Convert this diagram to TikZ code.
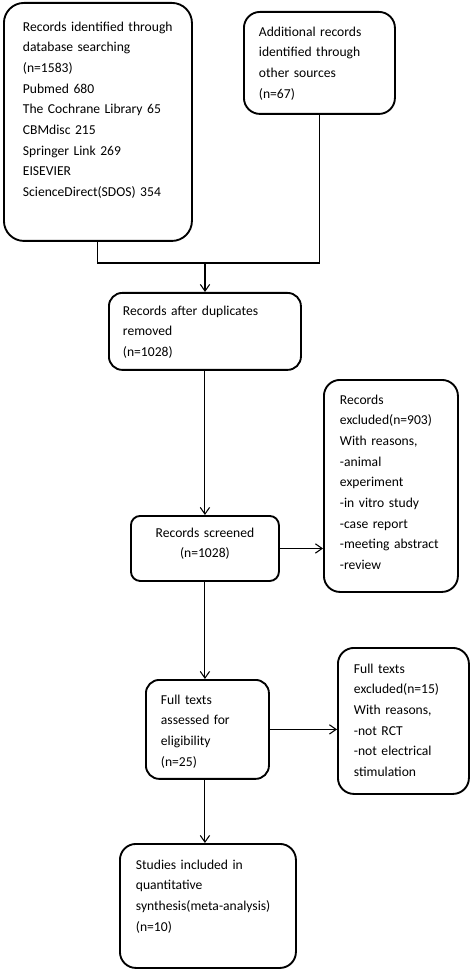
\documentclass[tikz,border=0pt]{standalone}
\usepackage{fontspec}
\setmainfont{Carlito}
\usepackage{tikz}
\usetikzlibrary{arrows.meta}

\begin{document}
\begin{tikzpicture}[x=0.75pt,y=-0.75pt,
		stage/.style={draw,line width=1.4pt,rounded corners=10pt,anchor=north west,
			align=left,inner ysep=0pt,font=\fontsize{10.2pt}{15.5pt}\selectfont},
		link/.style={line width=0.8pt},
		flow/.style={link,-{Straight Barb[length=5pt,width=7pt]}}]
		\useasboundingbox (0,0) rectangle (470,969);
		% identification
		\node [stage,rounded corners=15pt,text width=112.5pt,inner xsep=14.25pt,
			text height=21.2pt,text depth=157.3pt] (db) at (3,2)
			{Records identified through\\database searching\\(n=1583)\\Pubmed 680\\
			The Cochrane Library 65\\CBMdisc 215\\Springer Link 269\\EISEVIER\\
			ScienceDirect(SDOS) 354};
		\node [stage,rounded corners=12pt,text width=90.75pt,inner xsep=11.25pt,
			text height=18.2pt,text depth=58.3pt] (other) at (243,11)
			{Additional records\\identified through\\other sources\\(n=67)};
		% screening
		\node [stage,text width=123pt,inner xsep=10.5pt,
			text height=16.7pt,text depth=41pt] (dup) at (108,292)
			{Records after duplicates\\removed\\(n=1028)};
		\node [stage,align=center,rounded corners=7pt,text width=96pt,inner xsep=7.5pt,
			text height=16pt,text depth=32.8pt] (scr) at (130,515)
			{Records screened\\(n=1028)};
		\node [stage,rounded corners=12pt,text width=76.5pt,inner xsep=12pt,
			text height=18.2pt,text depth=140.8pt] (excl) at (323,379)
			{Records\\excluded(n=903)\\With reasons,\\-animal\\experiment\\
			-in vitro study\\-case report\\-meeting abstract\\-review};
		% eligibility
		\node [stage,text width=69.75pt,inner xsep=11.25pt,
			text height=18.2pt,text depth=56pt] (ft) at (145,679)
			{Full texts\\assessed for\\eligibility\\(n=25)};
		\node [stage,rounded corners=12pt,text width=74.25pt,inner xsep=12pt,
			text height=19pt,text depth=90.5pt] (ftex) at (337,647)
			{Full texts\\excluded(n=15)\\With reasons,\\-not RCT\\-not electrical\\stimulation};
		% included
		\node [stage,rounded corners=12pt,text width=108pt,inner xsep=12pt,
			text height=19pt,text depth=74pt] (incl) at (119,843)
			{Studies included in\\quantitative\\synthesis(meta-analysis)\\(n=10)};
		% connectors
		\coordinate (join) at (205,263);
		\draw [link] (db.south) -- (db.south |- join) -- (other.south |- join) -- (other.south);
		\draw [flow] (join) -- (join |- dup.north);
		\draw [flow] (dup.south) -- (scr.north);
		\draw [flow] (scr.east) -- (scr.east -| excl.west);
		\draw [flow] (scr.south) -- (scr.south |- ft.north);
		\draw [flow] (ft.east) -- (ft.east -| ftex.west);
		\draw [flow] (ft.south -| scr.south) -- (scr.south |- incl.north);
	\end{tikzpicture}
\end{document}
